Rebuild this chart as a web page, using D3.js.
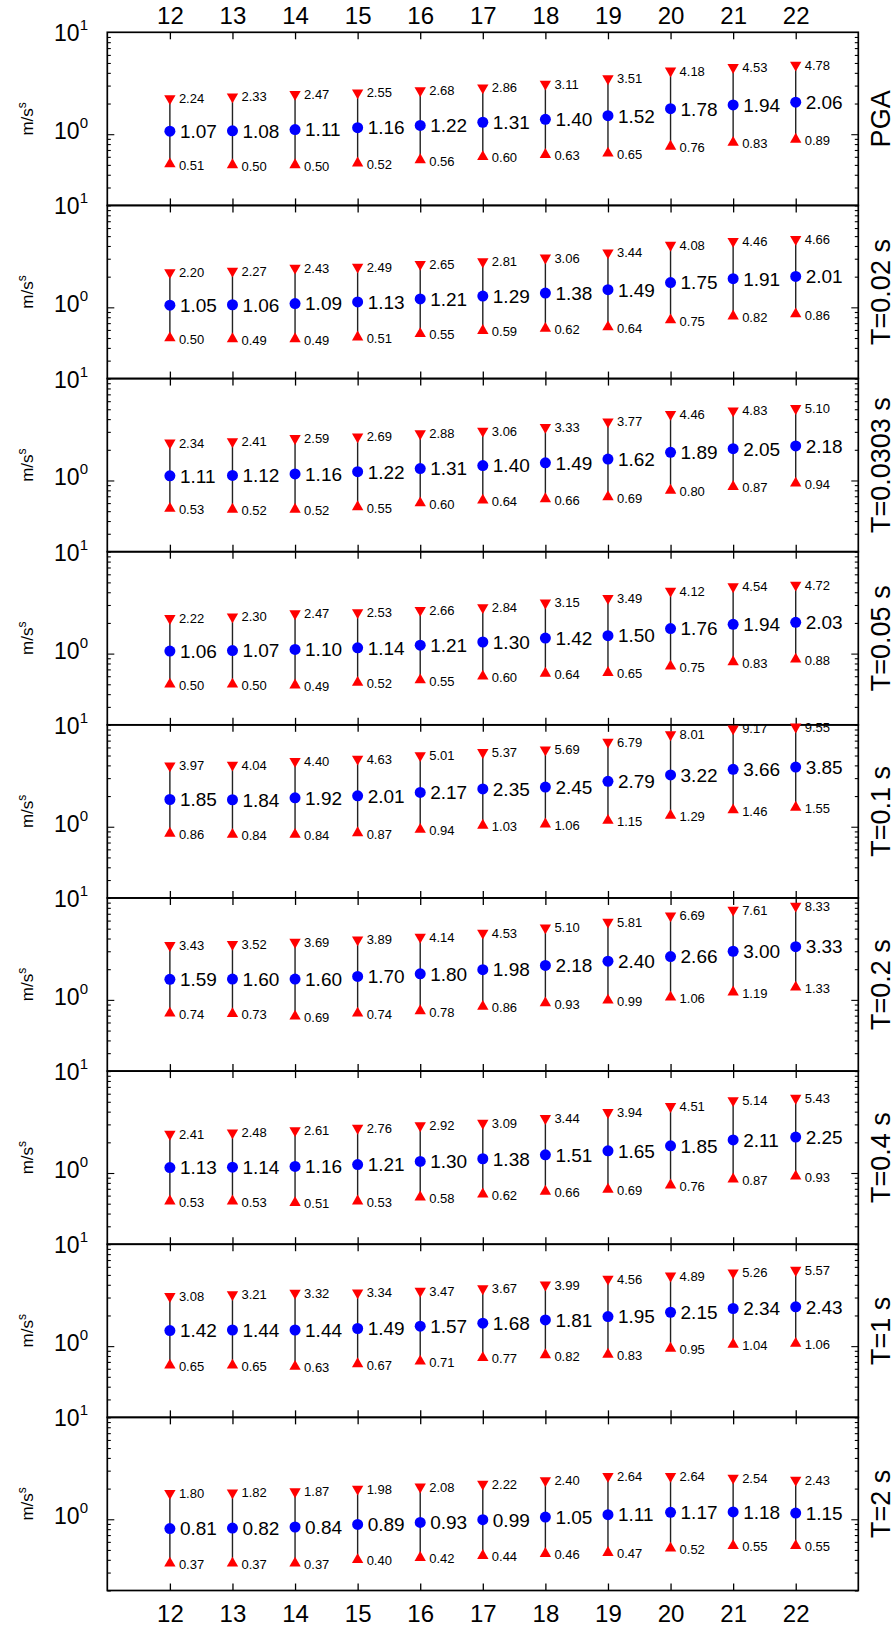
<!DOCTYPE html>
<html>
<head>
<meta charset="utf-8">
<script src="https://cdn.jsdelivr.net/npm/d3@7"></script>
<style>
  html, body { margin: 0; padding: 0; background: #fff; }
  svg { display: block; font-family: "Liberation Sans", Arial, Helvetica, sans-serif; }
</style>
</head>
<body>
<svg id="chart" width="896" height="1629"></svg>
<script>
// ---------- DATA ----------
const magnitudes = [12, 13, 14, 15, 16, 17, 18, 19, 20, 21, 22];
const panelLabels = ["PGA", "T=0.02 s", "T=0.0303 s", "T=0.05 s", "T=0.1 s", "T=0.2 s", "T=0.4 s", "T=1 s", "T=2 s"];
const yTickMajor = [1, 10];
const yTickMinor = [0.2, 0.3, 0.4, 0.5, 0.6, 0.7, 0.8, 0.9, 2, 3, 4, 5, 6, 7, 8, 9];
const yAxisTitle = "m/s";
const yAxisTitleSup = "s";

const pgaUpper  = [2.24, 2.33, 2.47, 2.55, 2.68, 2.86, 3.11, 3.51, 4.18, 4.53, 4.78];
const pgaMedian = [1.07, 1.08, 1.11, 1.16, 1.22, 1.31, 1.40, 1.52, 1.78, 1.94, 2.06];
const pgaLower  = [0.51, 0.50, 0.50, 0.52, 0.56, 0.60, 0.63, 0.65, 0.76, 0.83, 0.89];

const t002Upper  = [2.20, 2.27, 2.43, 2.49, 2.65, 2.81, 3.06, 3.44, 4.08, 4.46, 4.66];
const t002Median = [1.05, 1.06, 1.09, 1.13, 1.21, 1.29, 1.38, 1.49, 1.75, 1.91, 2.01];
const t002Lower  = [0.50, 0.49, 0.49, 0.51, 0.55, 0.59, 0.62, 0.64, 0.75, 0.82, 0.86];

const t00303Upper  = [2.34, 2.41, 2.59, 2.69, 2.88, 3.06, 3.33, 3.77, 4.46, 4.83, 5.10];
const t00303Median = [1.11, 1.12, 1.16, 1.22, 1.31, 1.40, 1.49, 1.62, 1.89, 2.05, 2.18];
const t00303Lower  = [0.53, 0.52, 0.52, 0.55, 0.60, 0.64, 0.66, 0.69, 0.80, 0.87, 0.94];

const t005Upper  = [2.22, 2.30, 2.47, 2.53, 2.66, 2.84, 3.15, 3.49, 4.12, 4.54, 4.72];
const t005Median = [1.06, 1.07, 1.10, 1.14, 1.21, 1.30, 1.42, 1.50, 1.76, 1.94, 2.03];
const t005Lower  = [0.50, 0.50, 0.49, 0.52, 0.55, 0.60, 0.64, 0.65, 0.75, 0.83, 0.88];

const t01Upper  = [3.97, 4.04, 4.40, 4.63, 5.01, 5.37, 5.69, 6.79, 8.01, 9.17, 9.55];
const t01Median = [1.85, 1.84, 1.92, 2.01, 2.17, 2.35, 2.45, 2.79, 3.22, 3.66, 3.85];
const t01Lower  = [0.86, 0.84, 0.84, 0.87, 0.94, 1.03, 1.06, 1.15, 1.29, 1.46, 1.55];

const t02Upper  = [3.43, 3.52, 3.69, 3.89, 4.14, 4.53, 5.10, 5.81, 6.69, 7.61, 8.33];
const t02Median = [1.59, 1.60, 1.60, 1.70, 1.80, 1.98, 2.18, 2.40, 2.66, 3.00, 3.33];
const t02Lower  = [0.74, 0.73, 0.69, 0.74, 0.78, 0.86, 0.93, 0.99, 1.06, 1.19, 1.33];

const t04Upper  = [2.41, 2.48, 2.61, 2.76, 2.92, 3.09, 3.44, 3.94, 4.51, 5.14, 5.43];
const t04Median = [1.13, 1.14, 1.16, 1.21, 1.30, 1.38, 1.51, 1.65, 1.85, 2.11, 2.25];
const t04Lower  = [0.53, 0.53, 0.51, 0.53, 0.58, 0.62, 0.66, 0.69, 0.76, 0.87, 0.93];

const t1Upper  = [3.08, 3.21, 3.32, 3.34, 3.47, 3.67, 3.99, 4.56, 4.89, 5.26, 5.57];
const t1Median = [1.42, 1.44, 1.44, 1.49, 1.57, 1.68, 1.81, 1.95, 2.15, 2.34, 2.43];
const t1Lower  = [0.65, 0.65, 0.63, 0.67, 0.71, 0.77, 0.82, 0.83, 0.95, 1.04, 1.06];

const t2Upper  = [1.80, 1.82, 1.87, 1.98, 2.08, 2.22, 2.40, 2.64, 2.64, 2.54, 2.43];
const t2Median = [0.81, 0.82, 0.84, 0.89, 0.93, 0.99, 1.05, 1.11, 1.17, 1.18, 1.15];
const t2Lower  = [0.37, 0.37, 0.37, 0.40, 0.42, 0.44, 0.46, 0.47, 0.52, 0.55, 0.55];

const panelUpper  = [pgaUpper, t002Upper, t00303Upper, t005Upper, t01Upper, t02Upper, t04Upper, t1Upper, t2Upper];
const panelMedian = [pgaMedian, t002Median, t00303Median, t005Median, t01Median, t02Median, t04Median, t1Median, t2Median];
const panelLower  = [pgaLower, t002Lower, t00303Lower, t005Lower, t01Lower, t02Lower, t04Lower, t1Lower, t2Lower];

// ---------- LAYOUT ----------
const svg = d3.select("#chart");
const left = 107.3, right = 858.3, top0 = 32.3, bottom = 1590.5;
const nP = panelLabels.length;
const ph = (bottom - top0) / nP;
const font = "'Liberation Sans', Arial, Helvetica, sans-serif";

const x = d3.scaleLinear().domain([11, 23]).range([left, right]);

const panels = panelLabels.map((label, i) => ({
  label,
  top: top0 + i * ph,
  rows: magnitudes.map((m, j) => ({ m, up: panelUpper[i][j], med: panelMedian[i][j], lo: panelLower[i][j] }))
}));

const triUp = d3.symbol().type(d3.symbolTriangle).size(56);

panels.forEach((p, i) => {
  const g = svg.append("g").attr("transform", `translate(0,${p.top})`);
  const y = d3.scaleLog().domain([0.2, 10]).range([ph, 0]);

  // minor ticks, left & right (inward)
  const yMinL = d3.axisRight(y).tickValues(yTickMinor).tickSize(3.5).tickFormat("");
  const yMinR = d3.axisLeft(y).tickValues(yTickMinor).tickSize(3.5).tickFormat("");
  const yMajL = d3.axisRight(y).tickValues([1]).tickSize(7).tickFormat("");
  const yMajR = d3.axisLeft(y).tickValues([1]).tickSize(7).tickFormat("");
  [[yMinL, left], [yMajL, left], [yMinR, right], [yMajR, right]].forEach(([ax, xp]) => {
    const a = g.append("g").attr("transform", `translate(${xp},0)`).call(ax);
    a.select(".domain").remove();
    a.selectAll("line").attr("stroke", "#000").attr("stroke-width", 1.1);
  });

  // x ticks top & bottom (inward)
  const xTop = d3.axisBottom(x).tickValues(magnitudes).tickSize(7).tickFormat("");
  const xBot = d3.axisTop(x).tickValues(magnitudes).tickSize(7).tickFormat("");
  [[xTop, 0], [xBot, ph]].forEach(([ax, yp]) => {
    const a = g.append("g").attr("transform", `translate(0,${yp})`).call(ax);
    a.select(".domain").remove();
    a.selectAll("line").attr("stroke", "#000").attr("stroke-width", 1.3);
  });

  // frame
  g.append("rect").attr("x", left).attr("y", 0).attr("width", right - left).attr("height", ph)
    .attr("fill", "none").attr("stroke", "#000").attr("stroke-width", 1.7);

  // y tick labels 10^1 and 10^0
  yTickMajor.forEach(v => {
    const exp = Math.round(Math.log10(v));
    const t = g.append("text").attr("x", 88).attr("y", y(v) + (exp === 1 ? 9 : 5))
      .attr("text-anchor", "end").attr("font-family", font).attr("font-size", 23).attr("fill", "#000");
    t.append("tspan").text("10");
    t.append("tspan").attr("dy", -11).attr("font-size", 15).text(String(exp));
  });

  // y axis title
  const tt = g.append("text")
    .attr("transform", `translate(33,${ph / 2}) rotate(-90)`)
    .attr("text-anchor", "middle").attr("font-family", font).attr("font-size", 17).attr("fill", "#000");
  tt.append("tspan").text(yAxisTitle);
  tt.append("tspan").attr("dy", -7).attr("font-size", 12).text(yAxisTitleSup);

  // right label
  g.append("text")
    .attr("transform", `translate(890,${ph / 2}) rotate(-90)`)
    .attr("text-anchor", "middle").attr("font-family", font).attr("font-size", 27).attr("fill", "#000")
    .text(p.label);

  // data
  const pts = g.append("g");
  const s = pts.selectAll("g.pt").data(p.rows).enter().append("g").attr("class", "pt");
  s.append("line")
    .attr("x1", d => x(d.m)).attr("x2", d => x(d.m))
    .attr("y1", d => y(d.up)).attr("y2", d => y(d.lo))
    .attr("stroke", "#222").attr("stroke-width", 1.4);
  s.append("path").attr("d", triUp)
    .attr("transform", d => `translate(${x(d.m)},${y(d.up)}) rotate(180)`)
    .attr("fill", "#ff0000");
  s.append("path").attr("d", triUp)
    .attr("transform", d => `translate(${x(d.m)},${y(d.lo)})`)
    .attr("fill", "#ff0000");
  s.append("circle").attr("cx", d => x(d.m)).attr("cy", d => y(d.med)).attr("r", 5.5)
    .attr("fill", "#0000ff");
  s.append("text").attr("x", d => x(d.m) + 10).attr("y", d => y(d.med))
    .attr("dy", "0.36em").attr("font-family", font).attr("font-size", 19).attr("fill", "#000")
    .text(d => d.med.toFixed(2));
  s.append("text").attr("x", d => x(d.m) + 9).attr("y", d => y(d.up))
    .attr("dy", "0.36em").attr("font-family", font).attr("font-size", 13).attr("fill", "#000")
    .text(d => d.up.toFixed(2));
  s.append("text").attr("x", d => x(d.m) + 9).attr("y", d => y(d.lo) + 1)
    .attr("dy", "0.36em").attr("font-family", font).attr("font-size", 13).attr("fill", "#000")
    .text(d => d.lo.toFixed(2));
});

// x tick labels on top and bottom
const xTopAxis = d3.axisTop(x).tickValues(magnitudes).tickSize(0).tickPadding(8);
const xBotAxis = d3.axisBottom(x).tickValues(magnitudes).tickSize(0).tickPadding(14);
const at = svg.append("g").attr("transform", `translate(0,${top0})`).call(xTopAxis);
const ab = svg.append("g").attr("transform", `translate(0,${bottom})`).call(xBotAxis);
[at, ab].forEach(a => {
  a.select(".domain").remove();
  a.selectAll("text").attr("font-family", font).attr("font-size", 24).attr("fill", "#000");
});
</script>
</body>
</html>
